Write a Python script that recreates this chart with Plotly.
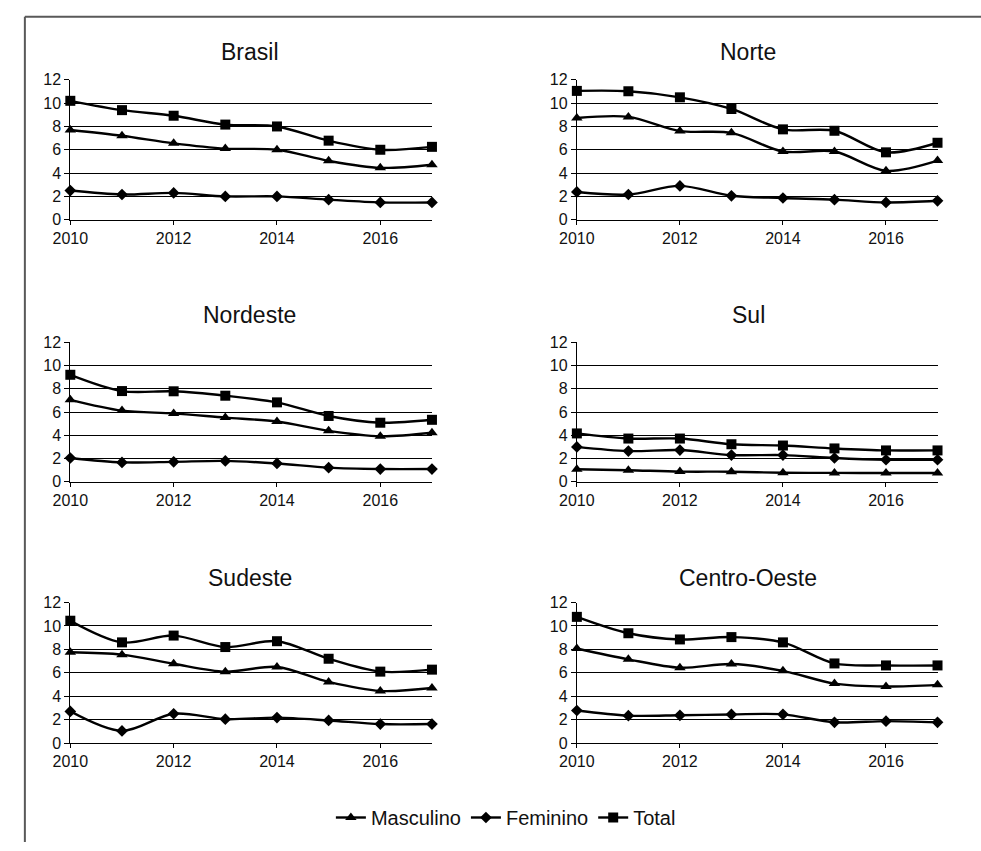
import plotly.graph_objects as go

# Taxas por região, 2010-2017
years = [2010, 2011, 2012, 2013, 2014, 2015, 2016, 2017]

regions = ["Brasil", "Norte", "Nordeste", "Sul", "Sudeste", "Centro-Oeste"]

brasil_masc = [7.7, 7.2, 6.55, 6.1, 6.0, 5.05, 4.45, 4.72]
brasil_fem = [2.5, 2.16, 2.3, 2.0, 2.0, 1.72, 1.48, 1.48]
brasil_total = [10.2, 9.4, 8.92, 8.16, 8.0, 6.78, 6.0, 6.25]

norte_masc = [8.72, 8.82, 7.6, 7.45, 5.85, 5.85, 4.2, 5.07]
norte_fem = [2.38, 2.16, 2.9, 2.05, 1.86, 1.72, 1.48, 1.62]
norte_total = [11.05, 11.02, 10.5, 9.5, 7.75, 7.63, 5.78, 6.6]

nordeste_masc = [7.05, 6.12, 5.88, 5.52, 5.18, 4.38, 3.92, 4.22]
nordeste_fem = [2.05, 1.67, 1.72, 1.8, 1.58, 1.22, 1.1, 1.1]
nordeste_total = [9.2, 7.8, 7.78, 7.4, 6.83, 5.66, 5.08, 5.33]

sul_masc = [1.08, 1.0, 0.88, 0.87, 0.78, 0.77, 0.76, 0.76]
sul_fem = [3.0, 2.64, 2.73, 2.3, 2.3, 2.05, 1.9, 1.9]
sul_total = [4.16, 3.72, 3.72, 3.23, 3.12, 2.87, 2.7, 2.7]

sudeste_masc = [7.75, 7.55, 6.77, 6.1, 6.5, 5.22, 4.45, 4.7]
sudeste_fem = [2.7, 1.03, 2.5, 2.04, 2.17, 1.93, 1.62, 1.62]
sudeste_total = [10.45, 8.6, 9.18, 8.2, 8.7, 7.2, 6.1, 6.27]

co_masc = [8.08, 7.15, 6.43, 6.75, 6.17, 5.08, 4.83, 4.97]
co_fem = [2.78, 2.34, 2.37, 2.44, 2.45, 1.77, 1.87, 1.77]
co_total = [10.78, 9.38, 8.85, 9.05, 8.6, 6.8, 6.63, 6.63]

series_names = ["Masculino", "Feminino", "Total"]
region_data = {
    "Brasil": (brasil_masc, brasil_fem, brasil_total),
    "Norte": (norte_masc, norte_fem, norte_total),
    "Nordeste": (nordeste_masc, nordeste_fem, nordeste_total),
    "Sul": (sul_masc, sul_fem, sul_total),
    "Sudeste": (sudeste_masc, sudeste_fem, sudeste_total),
    "Centro-Oeste": (co_masc, co_fem, co_total),
}

y_ticks = [0, 2, 4, 6, 8, 10, 12]
x_ticks = [2010, 2012, 2014, 2016]

W, H = 981, 851
FONT = "Liberation Sans, Arial, sans-serif"
TEXT = "#111111"


def px_x(x):
    return x / W


def px_y(y):
    return 1 - y / H


# Panel layout in pixels: (left, right) per column, (top, bottom) per row
col_px = [(53.3, 421.7), (569.3, 936.7)]
row_px = [(73.3, 216.0), (341.0, 483.5), (606.7, 750.0)]
title_x_px = [236, 744]
title_y_px = [45, 313, 582]

markers = {"Masculino": ("triangle-up", 10), "Feminino": ("diamond", 9), "Total": ("square", 10)}

fig = go.Figure()
layout = {}
annotations = []

for i, region in enumerate(regions):
    r, c = divmod(i, 2)
    idx = i + 1
    xa = "x" if idx == 1 else f"x{idx}"
    ya = "y" if idx == 1 else f"y{idx}"
    for name, vals in zip(series_names, region_data[region]):
        sym, size = markers[name]
        fig.add_trace(go.Scatter(
            x=years, y=vals, name=name, xaxis=xa, yaxis=ya,
            mode="lines+markers",
            line=dict(color="black", width=2.4, shape="spline", smoothing=0.9),
            marker=dict(symbol=sym, size=size, color="black"),
            cliponaxis=False,
            showlegend=(i == 0),
        ))
    x0, x1 = col_px[c]
    t, b = row_px[r]
    layout[f"xaxis{'' if idx == 1 else idx}"] = dict(
        domain=[px_x(x0), px_x(x1)], anchor=ya, range=[2010, 2017],
        tickvals=x_ticks, ticks="outside", ticklen=4, tickcolor="black",
        showline=True, linecolor="black", linewidth=1, showgrid=False,
        zeroline=False, fixedrange=True,
        tickfont=dict(family=FONT, size=16, color=TEXT),
    )
    layout[f"yaxis{'' if idx == 1 else idx}"] = dict(
        domain=[px_y(b), px_y(t)], anchor=xa, range=[0, 12],
        tickvals=y_ticks, ticks="outside", ticklen=5, tickcolor="black",
        showline=True, linecolor="black", linewidth=1,
        showgrid=True, gridcolor="black", gridwidth=1, zeroline=False,
        fixedrange=True,
        tickfont=dict(family=FONT, size=16, color=TEXT),
    )
    annotations.append(dict(
        text=region, x=px_x(title_x_px[c]), y=px_y(title_y_px[r]),
        xref="paper", yref="paper", xanchor="center", yanchor="middle",
        showarrow=False, font=dict(family=FONT, size=23, color=TEXT),
    ))

# Outer frame (left and top edges)
shapes = [
    dict(type="line", xref="paper", yref="paper", x0=px_x(7), x1=px_x(7), y0=0, y1=px_y(9),
         line=dict(color="#595959", width=2)),
    dict(type="line", xref="paper", yref="paper", x0=px_x(7), x1=1, y0=px_y(9), y1=px_y(9),
         line=dict(color="#595959", width=2)),
]

fig.update_layout(
    width=W, height=H,
    margin=dict(l=0, r=0, t=0, b=0),
    paper_bgcolor="white", plot_bgcolor="white",
    annotations=annotations, shapes=shapes,
    showlegend=True,
    legend=dict(
        orientation="h", x=px_x(497), xanchor="center", y=px_y(826), yanchor="middle",
        font=dict(family=FONT, size=20, color=TEXT),
        itemwidth=30, tracegroupgap=0,
    ),
    **layout,
)

fig.write_html("out.html")
